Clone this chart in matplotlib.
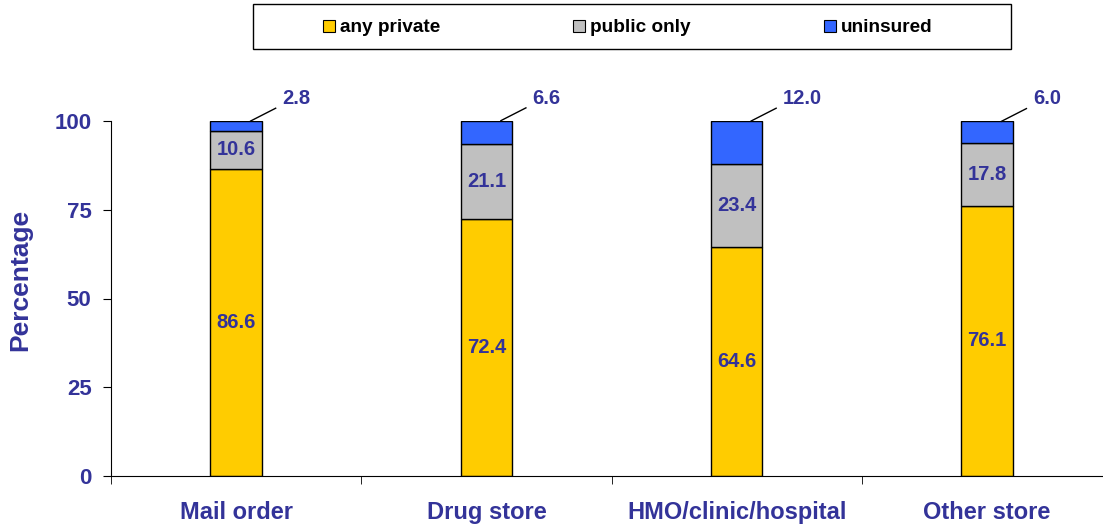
import matplotlib
matplotlib.use("Agg")
import matplotlib.pyplot as plt
from matplotlib.patches import Patch, Rectangle

plt.rcParams["font.family"] = ["Liberation Sans", "DejaVu Sans"]
plt.rcParams["font.weight"] = "bold"

categories = ["Mail order", "Drug store", "HMO/clinic/hospital", "Other store"]
any_private = [86.6, 72.4, 64.6, 76.1]
public_only = [10.6, 21.1, 23.4, 17.8]
uninsured = [2.8, 6.6, 12.0, 6.0]
series_names = ["any private", "public only", "uninsured"]
y_ticks = [0, 25, 50, 75, 100]

colors = ["#FFCC00", "#C0C0C0", "#3366FF"]
text_color = "#333399"

fig = plt.figure(figsize=(11.03, 5.27), dpi=100)
ax = fig.add_axes([111 / 1103, 51 / 527, 1001 / 1103, 355 / 527])

x = list(range(len(categories)))
width = 0.205
bottoms_public = any_private
bottoms_unins = [a + b for a, b in zip(any_private, public_only)]

ax.bar(x, any_private, width, color=colors[0], edgecolor="black", linewidth=1)
ax.bar(x, public_only, width, bottom=bottoms_public, color=colors[1], edgecolor="black", linewidth=1)
ax.bar(x, uninsured, width, bottom=bottoms_unins, color=colors[2], edgecolor="black", linewidth=1)

for i in x:
    ax.text(i, any_private[i] / 2, f"{any_private[i]:.1f}", ha="center", va="center",
            color=text_color, fontsize=14.5, fontweight="bold")
    ax.text(i, any_private[i] + public_only[i] / 2, f"{public_only[i]:.1f}", ha="center", va="center",
            color=text_color, fontsize=14.5, fontweight="bold")
    top = bottoms_unins[i] + uninsured[i]
    ax.plot([i + 0.058, i + 0.158], [top, top + 3.6], color="black", linewidth=1, clip_on=False)
    ax.text(i + 0.185, top + 6.3, f"{uninsured[i]:.1f}", ha="left", va="center",
            color=text_color, fontsize=14.5, fontweight="bold", clip_on=False)

ax.set_xlim(-0.5, len(categories) - 0.5)
ax.set_ylim(0, 100)
ax.set_yticks(y_ticks)
ax.set_yticklabels([str(t) for t in y_ticks], color=text_color, fontsize=16, fontweight="bold")
ax.set_xticks(x)
ax.set_xticklabels(categories, color=text_color, fontsize=17, fontweight="bold")
ax.tick_params(axis="x", which="major", length=0, pad=18)
ax.set_xticks([i - 0.5 for i in range(len(categories) + 1)], minor=True)
ax.tick_params(axis="x", which="minor", length=6, direction="out")
ax.tick_params(axis="y", length=6, direction="out", pad=8)
for side in ["top", "right"]:
    ax.spines[side].set_visible(False)
ax.set_ylabel("Percentage", color=text_color, fontsize=19, fontweight="bold")
ax.yaxis.set_label_coords(-0.079, 0.552)

# legend box across the top
fig.patches.append(Rectangle((253 / 1103, 1 - 49 / 527), 758 / 1103, 45 / 527,
                             transform=fig.transFigure, facecolor="white",
                             edgecolor="black", linewidth=1))
handles = [Patch(facecolor=c, edgecolor="black", linewidth=0.8) for c in colors]
leg = fig.legend(handles, series_names, loc="center left", bbox_to_anchor=(323 / 1103, 1 - 28 / 527),
                 ncol=3, frameon=False, handlelength=0.63, handleheight=0.63,
                 handletextpad=0.26, columnspacing=7.0, borderpad=0, borderaxespad=0,
                 prop={"weight": "bold", "size": 13.7})

fig.savefig("out.png", dpi=100)
